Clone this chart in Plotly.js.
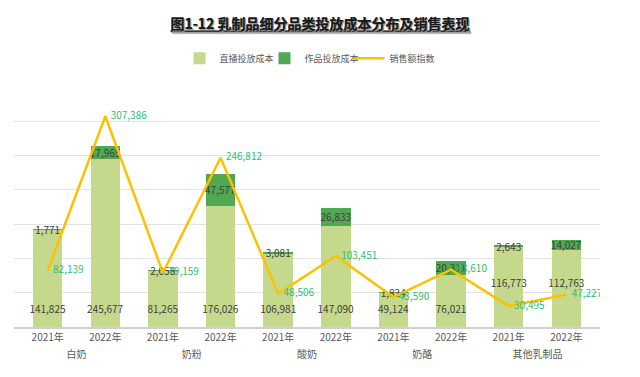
<!DOCTYPE html>
<html>
<head>
<meta charset="utf-8">
<script src="https://cdn.plot.ly/plotly-3.0.1.min.js"></script>
<style>html,body{margin:0;padding:0;background:#fff;}#chart{width:640px;height:377px;}</style>
</head>
<body>
<div id="chart"></div>
<script>
var groups = ['白奶','白奶','奶粉','奶粉','酸奶','酸奶','奶酪','奶酪','其他乳制品','其他乳制品'];
var years = ['2021年','2022年','2021年','2022年','2021年','2022年','2021年','2022年','2021年','2022年'];
var liveCost = [141825, 245677, 81265, 176026, 106981, 147090, 49124, 76021, 116773, 112763];
var worksCost = [1771, 17965, 2058, 47577, 3081, 26833, 1824, 20311, 2643, 14027];
var salesIndex = [82139, 307386, 79159, 246812, 48506, 103451, 43590, 83610, 30495, 47227];
var seriesNames = ['直播投放成本', '作品投放成本', '销售额指数'];
var chartTitle = '图1-12 乳制品细分品类投放成本分布及销售表现';

function fmt(v){ return v.toLocaleString('en-US'); }
// blank lines after a label lift it above the bar base (label placement only)
var liftLines = [0,0,0,0,0,0,0,0,2,2];
var liveText = liveCost.map(function(v,i){
  var s = fmt(v);
  for (var k=0;k<liftLines[i];k++) s += '<br>\u00a0';
  s += '<br><sup>\u00a0</sup>';
  return s;
});
var worksText = worksCost.map(fmt);
var salesText = salesIndex.map(fmt);

var FONT = '"Noto Sans CJK SC", "Noto Sans", sans-serif';
var x = [groups, years];

var traces = [
  {
    type: 'bar', name: seriesNames[0], x: x, y: liveCost,
    marker: {color: '#c4d98b'},
    text: liveText, textposition: 'inside', insidetextanchor: 'start',
    textangle: 0, constraintext: 'none',
    textfont: {size: 10, color: '#404040', family: FONT},
    hoverinfo: 'skip'
  },
  {
    type: 'bar', name: seriesNames[1], x: x, y: worksCost,
    marker: {color: '#4fa852'},
    text: worksText, textposition: 'inside', insidetextanchor: 'middle',
    textangle: 0, constraintext: 'none',
    textfont: {size: 10, color: '#404040', family: FONT},
    hoverinfo: 'skip'
  },
  {
    type: 'scatter', mode: 'lines+markers+text', name: seriesNames[2], x: x, y: salesIndex,
    line: {color: '#ffc000', width: 2.5},
    marker: {size: 7, color: 'rgba(0,0,0,0)'},
    text: salesText, textposition: 'middle right',
    textfont: {size: 10, color: '#2fbf71', family: FONT},
    hoverinfo: 'skip'
  }
];

var layout = {
  width: 640, height: 377,
  margin: {l: 14, r: 40, t: 87, b: 50},
  paper_bgcolor: '#ffffff', plot_bgcolor: '#ffffff',
  font: {family: FONT, color: '#595959', size: 10},
  title: {
    text: '<b><u>' + chartTitle + '</u></b>',
    x: 0.5, xanchor: 'center', y: 0.935, yanchor: 'middle',
    font: {family: FONT, size: 14, color: '#1a1a1a', shadow: '1px 1px 1px #9a9a9a'}
  },
  barmode: 'stack', bargap: 0.49,
  showlegend: true,
  legend: {
    orientation: 'h', x: 0.5, xanchor: 'center', y: 1.12, yanchor: 'middle',
    font: {size: 9, color: '#595959', family: FONT},
    traceorder: 'normal', itemwidth: 30, entrywidth: 40
  },
  xaxis: {
    type: 'multicategory', showdividers: false,
    showline: true, linecolor: '#d0d0d0', linewidth: 1.5,
    tickfont: {size: 10, color: '#595959', family: FONT},
    ticks: '', showgrid: false, fixedrange: true
  },
  yaxis: {
    range: [0, 350000], dtick: 50000,
    showticklabels: false, showgrid: true, gridcolor: '#e2e2e2', gridwidth: 1,
    zeroline: false, showline: false, ticks: '', fixedrange: true
  }
};

Plotly.newPlot('chart', traces, layout, {displayModeBar: false, staticPlot: true});
</script>
</body>
</html>
